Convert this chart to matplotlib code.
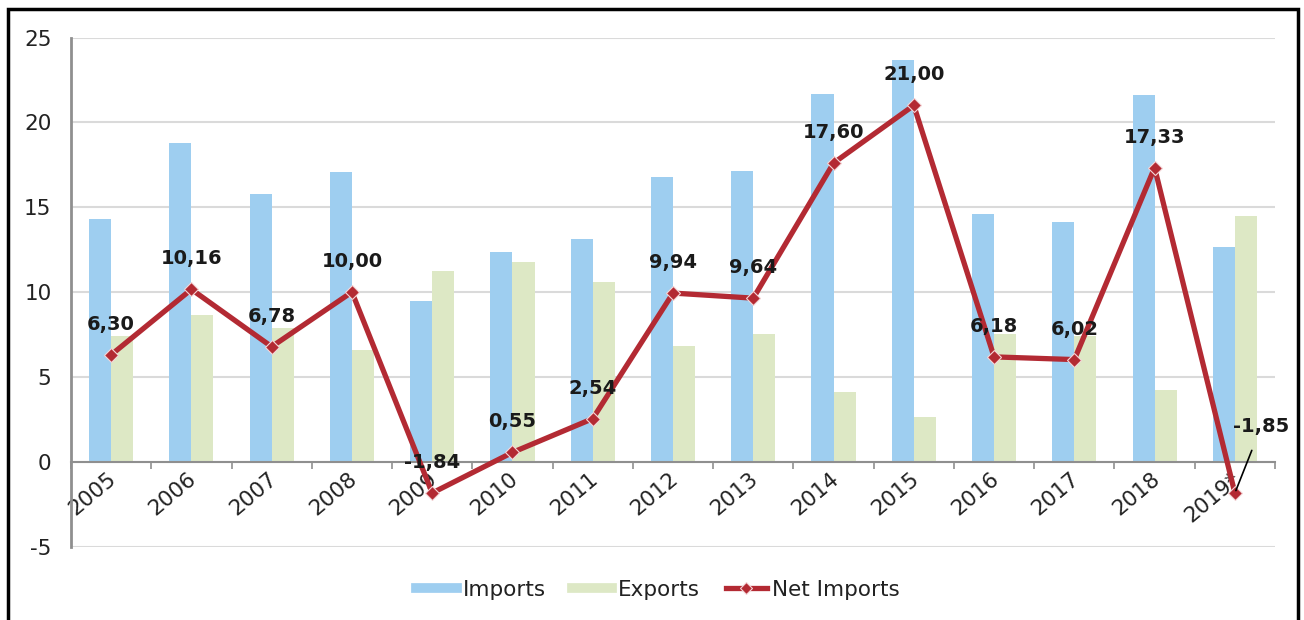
import matplotlib.pyplot as plt
import matplotlib.patches as mpatches
import matplotlib.transforms as mtransforms
from matplotlib.lines import Line2D
import numpy as np

plt.rcParams["axes.unicode_minus"] = False

# dados
years = ["2005", "2006", "2007", "2008", "2009", "2010", "2011", "2012",
         "2013", "2014", "2015", "2016", "2017", "2018", "2019*"]
imports = [14.3, 18.8, 15.8, 17.1, 9.45, 12.35, 13.15, 16.8,
           17.15, 21.7, 23.7, 14.6, 14.15, 21.6, 12.65]
exports = [7.4, 8.65, 7.9, 6.6, 11.25, 11.8, 10.6, 6.85,
           7.5, 4.1, 2.65, 7.5, 7.4, 4.25, 14.5]
net_imports = [6.30, 10.16, 6.78, 10.00, -1.84, 0.55, 2.54, 9.94,
               9.64, 17.60, 21.00, 6.18, 6.02, 17.33, -1.85]

blue = "#9ECEF0"
green = "#DDE8C5"
red = "#B32A33"
grid_c = "#DADADA"
axis_c = "#8F8F8F"
txt_c = "#222222"

fig = plt.figure(figsize=(13.04, 6.2), dpi=100)
ax = fig.add_axes([71/1304, 1 - 546.6/620, (1275 - 71)/1304, (546.6 - 37.5)/620])

x = np.arange(len(years))
w = 0.275
ax.bar(x - w/2, imports, w, color=blue, zorder=2)
ax.bar(x + w/2, exports, w, color=green, zorder=2)
ax.plot(x, net_imports, color=red, lw=3.8, marker="D", ms=7,
        mfc=red, mec="#F4D6D8", mew=0.8, zorder=4)

# rotulos dos valores
def fmt(v):
    return f"{v:.2f}".replace(".", ",")

for i, v in enumerate(net_imports):
    if i == len(net_imports) - 1:
        ax.annotate(fmt(v), (i, v), xytext=(19, 48), textcoords="offset points",
                    ha="center", va="center", fontsize=14, fontweight="bold",
                    color="#1A1A1A", zorder=5,
                    arrowprops=dict(arrowstyle="-", color="black", lw=1.2,
                                    shrinkA=9, shrinkB=2))
    else:
        ax.annotate(fmt(v), (i, v), xytext=(0, 22), textcoords="offset points",
                    ha="center", va="center", fontsize=14, fontweight="bold",
                    color="#1A1A1A", zorder=5)

# eixos
ax.set_xlim(-0.5, len(years) - 0.5)
ax.set_ylim(-5, 25)
ax.set_yticks(np.arange(-5, 26, 5))
ax.grid(axis="y", color=grid_c, lw=1.5, zorder=0)
ax.set_axisbelow(True)

for s in ["top", "right"]:
    ax.spines[s].set_visible(False)
ax.spines["bottom"].set_position(("data", 0))
ax.spines["bottom"].set_color(axis_c)
ax.spines["bottom"].set_linewidth(1.5)
ax.spines["bottom"].set_zorder(3)
ax.spines["left"].set_color(axis_c)
ax.spines["left"].set_linewidth(2)

ax.set_xticks(x)
ax.set_xticklabels(years, rotation=40, ha="right", va="top",
                   rotation_mode="anchor", fontsize=15.5, color=txt_c)
ax.set_xticks(np.arange(-0.5, len(years), 1), minor=True)
ax.tick_params(axis="x", which="major", length=0, pad=5)
ax.tick_params(axis="x", which="minor", length=5, width=1.2, color=axis_c,
               direction="out")
ax.tick_params(axis="y", length=0, pad=14, labelsize=15.5, labelcolor=txt_c)

shift = mtransforms.ScaledTranslation(-4/100, 0, fig.dpi_scale_trans)
for lab in ax.get_xticklabels():
    lab.set_transform(lab.get_transform() + shift)

# legenda
handles = [Line2D([], [], color=blue, lw=7),
           Line2D([], [], color=green, lw=7),
           Line2D([], [], color=red, lw=3.8, marker="D", ms=6,
                  mfc=red, mec="#F4D6D8", mew=0.8)]
fig.legend(handles, ["Imports", "Exports", "Net Imports"], loc="center",
           bbox_to_anchor=(658/1304, 1 - 590/620), ncol=3, frameon=False,
           fontsize=15.5, handlelength=1.9, handletextpad=0.25, columnspacing=1.2,
           labelcolor=txt_c)

# moldura
fig.patches.append(mpatches.Rectangle((8/1304, -0.02), (1298 - 8)/1304, 1.02 - 9/620,
                                      transform=fig.transFigure, fill=False,
                                      ec="black", lw=2.5))

plt.savefig("out.png", dpi=100)
